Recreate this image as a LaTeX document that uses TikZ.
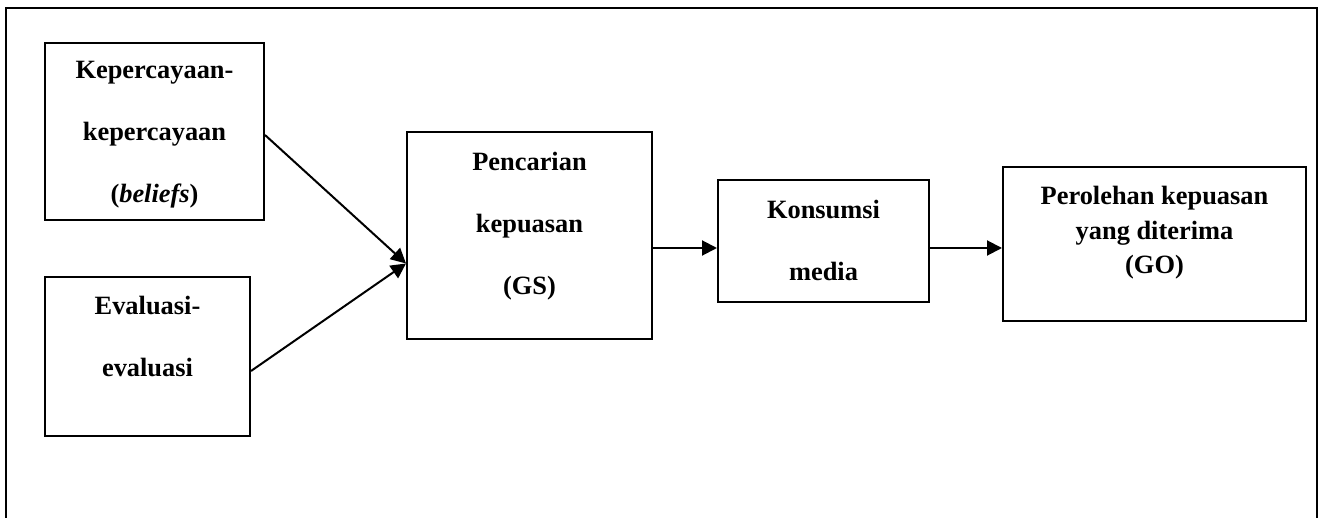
\documentclass[tikz,border=0pt]{standalone}
\usepackage{fontspec}
\setmainfont{Liberation Serif}
\usepackage{tikz}
\usetikzlibrary{arrows.meta,positioning,calc}

\tikzset{
  box/.style={draw,line width=1pt,inner sep=0pt},
  lbl/.style={align=center,inner sep=0pt,anchor=north,font=\fontsize{13.2}{31}\selectfont\bfseries},
  arr/.style={line width=1pt,-{Triangle[length=7.5pt,width=7.5pt]}}
}

\begin{document}
\begin{tikzpicture}[x=0.5pt,y=-0.5pt]
  \useasboundingbox (0,0) rectangle (1324,518);
  % frame
  \draw[line width=0.8pt] (6,518) -- (6,8) -- (1317,8) -- (1317,518);
  % boxes
  \node[box,minimum width=109.5pt,minimum height=88.5pt] (bel) at (154.5,131.5) {};
  \node[box,minimum width=102.5pt,minimum height=79.5pt] (eva) at (147.5,356.5) {};
  \node[box,minimum width=122.5pt,minimum height=103.5pt] (gs) at (529.5,235.5) {};
  \node[box,minimum width=105.5pt,minimum height=61pt] (kon) at (823.5,241) {};
  \node[box,minimum width=151.5pt,minimum height=77pt] (go) at (1154.5,244) {};
  % labels
  \node[lbl] (belt) at (154.5,61) {Kepercayaan-\\ kepercayaan\\ (\textit{beliefs})};
  \node[lbl] (evat) at (147.5,296) {Evaluasi-\\ evaluasi};
  \node[lbl] (gst) at (529.5,152) {Pencarian\\ kepuasan\\ (GS)};
  \node[lbl] (kont) at (823.5,200) {Konsumsi\\ media};
  \node[lbl,font=\fontsize{13.2}{17.25}\selectfont\bfseries] (got) at (1154.5,186) {Perolehan kepuasan\\ yang diterima\\ (GO)};
  % arrows
  \draw[arr] ([yshift=-1.75pt]bel.east) -- ([yshift=-14pt]gs.west);
  \draw[arr] ([yshift=-7.25pt]eva.east) -- ([yshift=-14pt]gs.west);
  \draw[arr] ([yshift=-6.25pt]gs.east) -- ([yshift=-6.25pt]gs.east -| kon.west);
  \draw[arr] ([yshift=-3.5pt]kon.east) -- ([yshift=-3.5pt]kon.east -| go.west);
\end{tikzpicture}
\end{document}
